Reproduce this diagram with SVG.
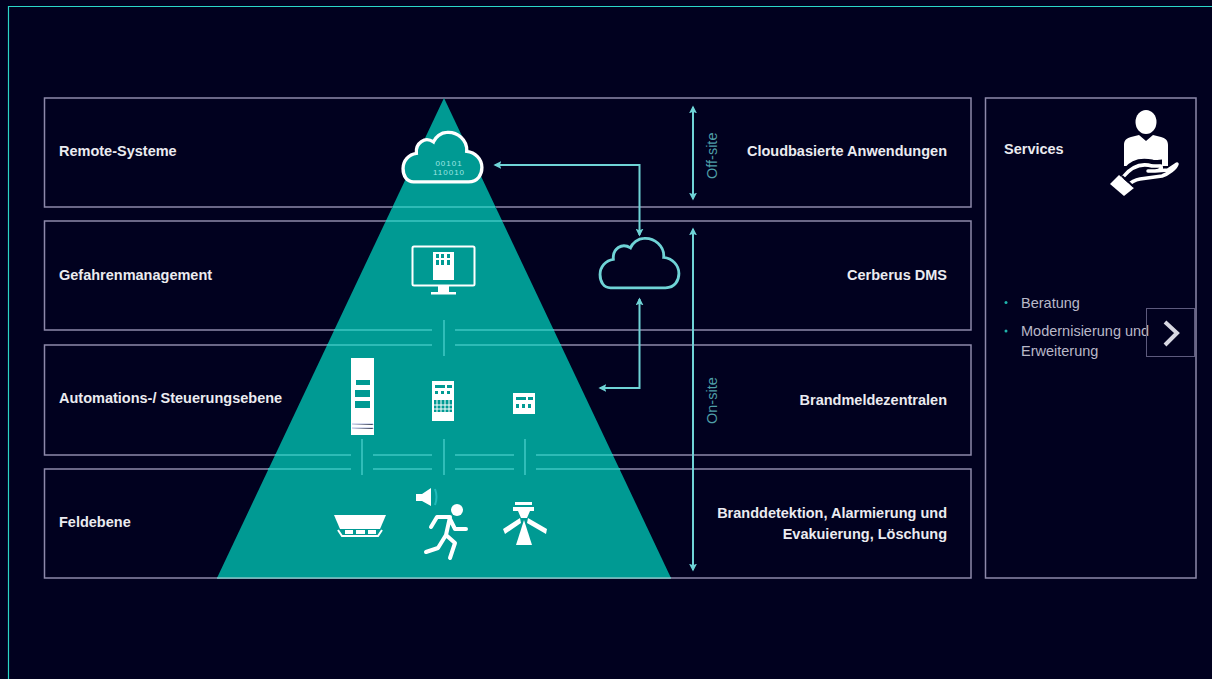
<svg xmlns="http://www.w3.org/2000/svg" width="1212" height="679" viewBox="0 0 1212 679">
<style>
text{font-family:"Liberation Sans",Arial,sans-serif}
.b{fill:none;stroke:#8d89aa;stroke-width:1.5}
.t{font-size:14.5px;font-weight:700;fill:#ebebf0}
.r{text-anchor:end}
.s{font-size:14.5px;fill:#b9b8c8}
.v{font-size:14.5px;fill:#4f9fa8}
.l{stroke:#3cc6c2;stroke-width:1.6;fill:none}
.c{stroke:#6fd3d6;stroke-width:2;fill:none}
.w{fill:#fff}
.wl{fill:none;stroke:#fff;stroke-linecap:round;stroke-linejoin:round}
</style>
<defs>
<marker id="a" viewBox="0 0 10 10" refX="8" refY="5" markerWidth="8" markerHeight="8" markerUnits="userSpaceOnUse" orient="auto-start-reverse"><path d="M0 0L10 5L0 10L2 5Z" fill="#6fd3d6"/></marker>
<path id="cloud" d="M-30 24H28C38 24 42 16 42 9C42 0 35-7 26-8C27-20 16-29 5-28C-1-28-7-23-9-18C-18-24-28-17-27-6C-35-5-41 2-41 10C-41 18-37 24-30 24Z"/>
</defs>
<rect width="1212" height="679" fill="#01011f"/>
<path d="M8.500 679V6.500H1212" fill="none" stroke="#2bd6c8" stroke-width="1.200"/>
<g id="tiers">
<rect id="tier-remote" class="b" x="44.500" y="98" width="926.500" height="109"/>
<rect id="tier-gefahren" class="b" x="44.500" y="221" width="926.500" height="109"/>
<rect id="tier-automation" class="b" x="44.500" y="345" width="926.500" height="110"/>
<rect id="tier-feld" class="b" x="44.500" y="469" width="926.500" height="109"/>
</g>
<g id="pyramid">
<path d="M444 98L671 578H217Z" fill="#009a93"/>
<path class="l" d="M393 207H495M386 221H502M334 330H432M455 330H554M327 345H432M455 345H561M275 455H351M373 455H432M455 455H514M536 455H613M268 469H351M373 469H432M455 469H514M536 469H620"/>
<path d="M217 578H671" stroke="#7fc4c6" stroke-width="1.500"/>
</g>
<g id="connectors">
<path class="l" d="M444 320V356M362 439V475M444 439V475M525 439V475" stroke-width="2"/>
<path class="c" marker-start="url(#a)" marker-end="url(#a)" d="M639.500 235V165H495"/>
<path class="c" marker-start="url(#a)" marker-end="url(#a)" d="M639.500 299V388H600"/>
<path class="c" marker-start="url(#a)" marker-end="url(#a)" d="M693 107V199"/>
<path class="c" marker-start="url(#a)" marker-end="url(#a)" d="M693 229V570"/>
</g>
<g id="cloud-data">
<use href="#cloud" transform="translate(442 159) scale(.95 .95)" fill="#009a93" stroke="#fff" stroke-width="3.500"/>
<text x="449" y="166" text-anchor="middle" font-size="8" letter-spacing="1" fill="#9fe6e3">00101</text>
<text x="449" y="175" text-anchor="middle" font-size="8" letter-spacing="1" fill="#9fe6e3">110010</text>
</g>
<g id="cloud-dms">
<use href="#cloud" transform="translate(639 265) scale(.95 .95)" fill="none" stroke="#6fd3d6" stroke-width="3"/>
</g>
<g id="monitor">
<rect x="412.500" y="246.500" width="62" height="39" rx="1.500" fill="none" stroke="#fff" stroke-width="2"/>
<rect x="433" y="252" width="21" height="28" class="w"/>
<path d="M436 254h3v4h-3zM441 254h3v4h-3zM447 254h3v4h-3zM436 260h3v5h-3zM441 260h3v5h-3zM447 260h3v5h-3z" fill="#009a93"/>
<path class="w" d="M438 286h11v6h-11zM431 292h25v2.500h-25z"/>
</g>
<g id="cabinet-large">
<rect x="351" y="358" width="23" height="77" class="w"/>
<path d="M356 380h14v5h-14zM355 390h15v7h-15zM355 401h15v7h-15z" fill="#009a93"/>
<path d="M352 424h21v1M352 428h21v1" stroke="#9ad" stroke-width=".8"/>
</g>
<g id="cabinet-medium">
<rect x="432" y="381" width="22" height="40" class="w"/>
<path d="M435 385h10v3h-10zM447 385h5v3h-5zM435 391h3v3h-3zM441 391h3v3h-3zM447 391h3v3h-3zM434 400h18v12h-18z" fill="#009a93"/>
<path d="M437 400v12M441 400v12M445 400v12M449 400v12M434 405h18M434 409h18" stroke="#fff" stroke-width="1"/>
</g>
<g id="cabinet-small">
<rect x="513" y="393" width="22" height="21" class="w"/>
<path d="M516 397h10v3h-10zM528 397h5v3h-5zM516 404h3v4h-3zM522 404h3v4h-3zM528 404h3v4h-3z" fill="#009a93"/>
</g>
<g id="detector">
<path class="w" d="M334 515H386L380 529H340Z"/>
<path d="M338 530L342 536H378L382 530" fill="none" stroke="#fff" stroke-width="2"/>
<path class="w" d="M345 530h8v4h-8zM356 530h9v4h-9zM368 530h8v4h-8z"/>
</g>
<g id="evacuation">
<path class="w" d="M416 494H422L431 488V506L422 501H416Z"/>
<path d="M435 489Q438 497 435 505" fill="none" stroke="#2bb" stroke-width="2"/>
<circle class="w" cx="457" cy="510" r="6"/>
<path class="wl" stroke-width="4" d="M431 527L437 517H450L446 535L455 543L450 558M446 535L438 548L426 552M450 519L455 529H466"/>
</g>
<g id="sprinkler">
<path class="w" d="M515 502H532V505H515ZM513 507H534V511H513ZM518 511H530L527 518H521Z"/>
<path class="w" d="M503 529L520 518L521 523L505 534ZM547 529L528 518L527 523L546 534Z"/>
<path class="w" d="M524 520L532 545H516Z"/>
</g>
<g id="service-icon">
<ellipse class="w" cx="1146" cy="122" rx="10.500" ry="12"/>
<path class="w" d="M1124 145C1124 140 1127 138 1131 137L1139 135L1146 141L1153 135L1161 137C1165 138 1168 140 1168 145V166H1124Z"/>
<path d="M1126 170C1132 162 1142 160 1152 162C1155 163 1160 162 1162 162" fill="none" stroke="#01011f" stroke-width="5"/>
<path class="wl" stroke-width="3.500" d="M1123 177C1132 166 1142 163 1152 166H1160C1163 167 1161 171 1155 171L1148 171M1155 171L1168 170L1177 164C1176 168 1168 174 1162 176L1140 179C1134 180 1130 183 1127 186"/>
<path class="w" d="M1119 175L1134 188L1124 196L1110 184Z"/>
<path d="M1122 176L1134 187" stroke="#01011f" stroke-width="2"/>
</g>
<g id="services">
<rect class="b" x="985.500" y="98" width="210.500" height="480"/>
<text class="t" x="1004" y="154">Services</text>
<circle cx="1006" cy="302.500" r="1.500" fill="#1fb5ad"/>
<text class="s" x="1021" y="308">Beratung</text>
<circle cx="1006" cy="331" r="1.500" fill="#1fb5ad"/>
<text class="s" x="1021" y="336">Modernisierung und</text>
<text class="s" x="1021" y="356">Erweiterung</text>
</g>
<g id="next-button">
<rect x="1146.500" y="308.500" width="48" height="48" fill="none" stroke="#5d5a7d" stroke-width="1"/>
<path d="M1165 322L1177 333L1165 345" fill="none" stroke="#d8d8e2" stroke-width="4"/>
</g>
<g id="labels">
<text class="t" x="59" y="156">Remote-Systeme</text>
<text class="t" x="59" y="280">Gefahrenmanagement</text>
<text class="t" x="59" y="403">Automations-/ Steuerungsebene</text>
<text class="t" x="59" y="527">Feldebene</text>
<text class="t r" x="947" y="156">Cloudbasierte Anwendungen</text>
<text class="t r" x="947" y="280">Cerberus DMS</text>
<text class="t r" x="947" y="405">Brandmeldezentralen</text>
<text class="t r" x="947" y="518">Branddetektion, Alarmierung und</text>
<text class="t r" x="947" y="539">Evakuierung, Löschung</text>
<text class="v" transform="translate(717 179) rotate(-90)">Off-site</text>
<text class="v" transform="translate(717 424) rotate(-90)">On-site</text>
</g>
</svg>
